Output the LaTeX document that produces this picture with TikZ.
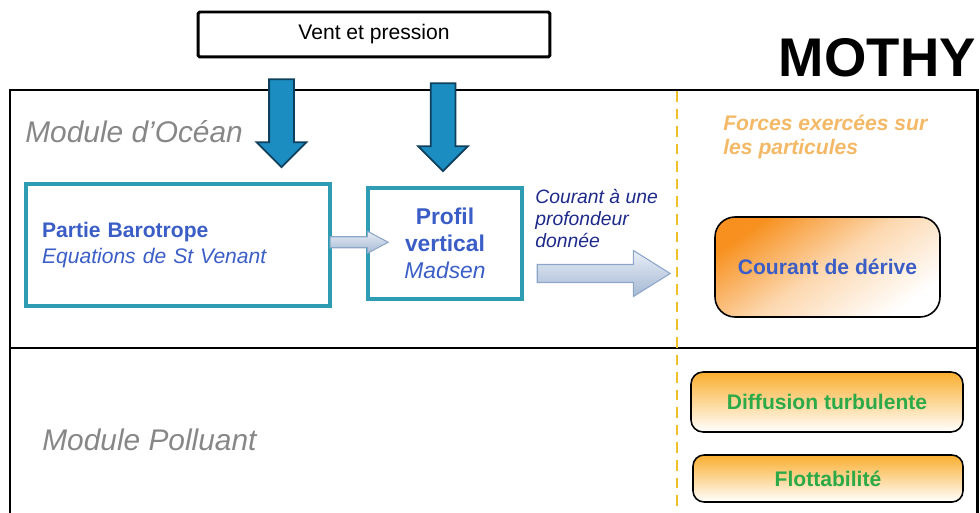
\documentclass[tikz,border=0pt]{standalone}
\usepackage{fontspec}
\setmainfont{Liberation Sans}
\usetikzlibrary{calc,positioning,shapes.arrows}
\definecolor{ventblue}{HTML}{1C8DC1}
\definecolor{ventborder}{HTML}{0E3F5C}
\definecolor{tealline}{HTML}{2E9DB3}
\definecolor{textblue}{HTML}{3B5EC6}
\definecolor{navytext}{HTML}{1E2A8A}
\definecolor{forcesorange}{HTML}{F4B967}
\definecolor{dashgold}{HTML}{F0C02A}
\definecolor{modgray}{HTML}{878787}
\definecolor{greentext}{HTML}{2DAA48}
\definecolor{deriveorange}{HTML}{F7901E}
\definecolor{boxorange}{HTML}{F9AE2E}
\definecolor{arrowlight}{HTML}{E8EEF7}
\definecolor{arrowdark}{HTML}{A5B8D3}
\definecolor{arrowedge}{HTML}{8CA6C8}

\begin{document}
\begin{tikzpicture}[x=0.02cm,y=-0.02cm,
	frame/.style={line width=1.7pt},
	ventbox/.style={draw,line width=1.7pt,rounded corners=1pt,minimum width=7.04cm,
		minimum height=0.9cm,font=\fontsize{12}{14}\selectfont},
	ventarrow/.style={single arrow,shape border rotate=270,fill=ventblue,draw=ventborder,
		line width=1pt,inner sep=0.23cm,single arrow head extend=0.25cm,
		single arrow tip angle=90,minimum height=1.76cm},
	tealbox/.style={draw=tealline,line width=2pt,text=textblue},
	flowarrow/.style={single arrow,top color=arrowlight,bottom color=arrowdark,
		draw=arrowedge,line width=0.6pt},
	forcebox/.style={draw,line width=0.9pt,font=\bfseries\fontsize{12}{14}\selectfont},
	modlabel/.style={anchor=base west,inner sep=0,text=modgray,
		font=\itshape\fontsize{17}{20}\selectfont},
	]
	\useasboundingbox (0,0) rectangle (980,513);
	% cadre des modules
	\draw[frame] (10,513) -- (10,90) -- (977,90) -- (977,513);
	\draw[frame] (10,348) -- (977,348);
	\draw[dashgold,line width=1.4pt,dash pattern=on 6pt off 4pt] (677,91) -- (677,513);

	\node[ventbox] (vent) at (374,34.5) {Vent et pression};
	\node[anchor=base east,inner sep=0,font=\bfseries\fontsize{31}{36}\selectfont] (mothy)
		at (976,77) {MOTHY};
	\node[modlabel] (ocean) at (25,143) {Module d'Océan};
	\node[modlabel] (polluant) at (42,450) {Module Polluant};

	\node[ventarrow] (v1) at (281.5,117) {};
	\node[ventarrow] (v2) at (443,121) {};

	% module d'ocean
	\node[tealbox,minimum width=6.08cm,minimum height=2.44cm,inner xsep=0.32cm,
		text width=5.44cm,align=left,font=\fontsize{12}{14.7}\selectfont] (baro)
		at (178,245) {{\bfseries Partie Barotrope}\\{\itshape Equations de St Venant}};
	\node[tealbox,minimum width=3.08cm,minimum height=2.22cm,align=center,
		font=\fontsize{13}{15.3}\selectfont] (profil)
		at (445,243.5) {{\bfseries Profil}\\{\bfseries vertical}\\{\itshape Madsen}};
	\node[flowarrow,inner sep=0.1cm,single arrow head extend=0.11cm,
		single arrow tip angle=56,minimum height=1.16cm] (a1)
		at ($(baro.east)!0.5!(profil.west)+(5,-2)$) {};
	\node[anchor=north west,inner sep=0,align=left,text=navytext,
		font=\itshape\fontsize{11}{12.5}\selectfont] (courant)
		at (535,189) {Courant à une\\profondeur\\donnée};
	\node[flowarrow,inner sep=0.17cm,single arrow head extend=0.28cm,
		single arrow tip angle=64,minimum height=2.66cm] (a2)
		at (596.5,273.5) {};

	% forces
	\node[anchor=north west,inner sep=0,align=left,text=forcesorange,
		font=\bfseries\itshape\fontsize{12}{13.6}\selectfont] (forces)
		at (723,115) {Forces exercées sur\\les particules};
	\node[forcebox,rounded corners=0.4cm,minimum width=4.5cm,minimum height=2cm,
		text=textblue,top color=deriveorange,bottom color=white,
		middle color=deriveorange!35!white,shading angle=35] (derive)
		at (827.5,267) {Courant de dérive};
	\node[forcebox,rounded corners=0.24cm,minimum width=5.44cm,minimum height=1.2cm,
		text=greentext,top color=boxorange,bottom color=white] (diffusion)
		at (827,402) {Diffusion turbulente};
	\node[forcebox,rounded corners=0.22cm,minimum width=5.4cm,minimum height=0.94cm,
		text=greentext,top color=boxorange,bottom color=white] (flott)
		at (828,478.5) {Flottabilité};
\end{tikzpicture}
\end{document}
